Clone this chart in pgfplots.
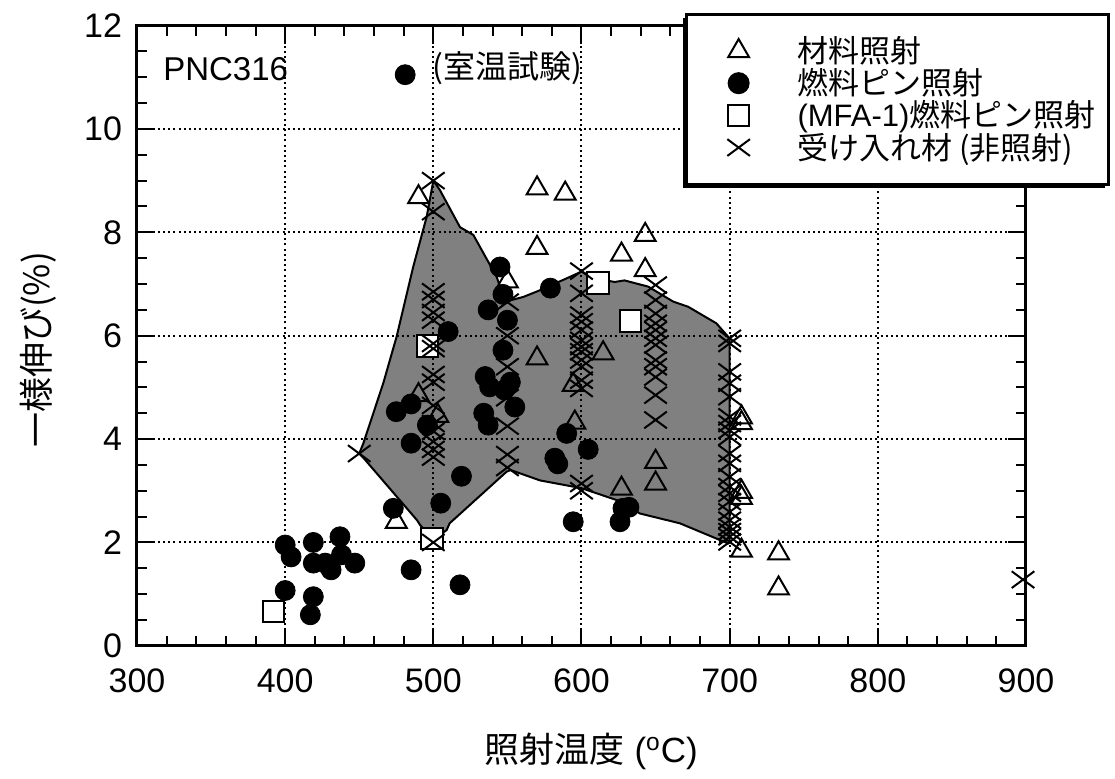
\documentclass[border=0pt]{standalone}
\usepackage{pgfplots}
\pgfplotsset{compat=1.18}
\usepackage{fontspec}
\setmainfont{Liberation Sans}
\newfontfamily\cjk{Noto Sans CJK JP}
\usetikzlibrary{shadows}
\definecolor{polygray}{RGB}{128,128,128}
\begin{document}
\begin{tikzpicture}
\begin{axis}[
  scale only axis, width=444.5pt, height=310.1pt,
  xmin=300, xmax=900, ymin=0, ymax=12,
  xtick={300,400,...,900}, ytick={0,2,...,12},
  minor x tick num=4, minor y tick num=3,
  tick pos=both, tick align=inside,
  major tick length=9pt, minor tick length=5pt,
  axis line style={line width=1.5pt},
  every tick/.style={black, line width=1pt},
  grid=major, major grid style={black, line width=1pt, dash pattern=on 1pt off 1.6pt},
  axis on top,
  /pgf/number format/assume math mode=true,
  ticklabel style={font=\fontsize{17}{20}\selectfont},
  xticklabel style={yshift=-8pt},
  yticklabel style={xshift=-4pt},
  xlabel={{\cjk 照射温度} (\textsuperscript{o}C)},
  ylabel={{\cjk 一様伸び(\%)}},
  label style={font=\fontsize{17.5}{20}\selectfont},
  xlabel style={at={(axis description cs:0.511,-0.171)}, anchor=center},
  ylabel style={at={(axis description cs:-0.111,0.477)}, anchor=center},
  clip=false,
  legend cell align=left,
  legend image code/.code={\pgfpathrectangle{\pgfpoint{-13pt}{-1pt}}{\pgfpoint{30pt}{2pt}}\pgfusepath{use as bounding box}\draw[only marks, line width=1pt] plot coordinates {(0.3cm,0cm)};},
  legend style={at={(1.0945,1.0203)}, anchor=north east, draw=black, line width=1.5pt, fill=white,
    font=\fontsize{15.5}{17}\selectfont, inner xsep=4.5pt, inner ysep=9pt, row sep=-2.5pt,
    drop shadow={shadow xshift=-1.8pt, shadow yshift=-1.8pt, fill=black, opacity=1},
    /tikz/every odd column/.append style={column sep=19pt}},
]
% shaded band
\addplot[fill=polygray, draw=black, line width=1pt, forget plot] coordinates {
(450,3.72) (452.8,3.92) (466.2,5.08) (475.2,5.98) (486.4,7.33) (495.5,8.3) (500,9.0)
(504.4,8.82) (518,8.1) (527,7.95) (542.7,7.14) (548.7,6.66) (560.7,6.75) (572,6.88)
(590,7.11) (600,7.24) (610,7.1) (622.5,7.04) (629,7.07) (645,6.95) (661.9,6.66)
(672,6.56) (691,6.24) (699,5.98) (700,5.95) (700,2.0) (699,1.98) (666.4,2.37)
(639.4,2.56) (623.7,2.82) (600,3.05) (572,3.2) (552.3,3.4) (549.5,3.37) (511,2.37)
(509,2.24) (500,2.05) (491,2.34) (489,2.43) (453,3.63) (450,3.72)
} -- cycle;
% material irradiation
\addplot[only marks, mark=triangle, mark size=6pt, mark options={line width=1pt, draw=black}] coordinates {
(490,8.68) (490,4.85) (503,4.45) (475,2.4) (570,8.85) (589,8.75) (570,7.7) (643,7.95)
(627,7.57) (643,7.27) (550,7.05) (570,5.56) (614.6,5.66) (594.4,5.05) (595.5,4.32)
(650,3.56) (650,3.14) (627,3.04) (708,4.42) (708,4.31) (708,2.98) (708,2.86) (708,1.84)
(733,1.79) (733,1.11)
};
\addlegendentry{{\cjk 材料照射}}
% fuel pin irradiation
\addplot[only marks, mark=*, mark size=5pt, mark options={fill=black, draw=black}] coordinates {
(481,11.05)
(475,4.53) (485,4.68) (496,4.27) (485,3.92) (510,6.08) (519,3.28) (505,2.76) (473,2.66)
(400,1.95) (404,1.72) (419,2.0) (437,2.11) (419,1.6) (427,1.6) (431,1.47) (438,1.76)
(447,1.6) (485,1.47) (518,1.18) (400,1.07) (419,0.95) (417,0.6)
(545,7.33) (547,6.8) (537,6.5) (550,6.3) (547,5.72) (579,6.92) (535,5.21) (538,5.01)
(552,5.1) (548,4.95) (555,4.62) (534,4.5) (537,4.27) (590,4.11) (604.5,3.8) (582,3.63)
(584,3.52) (628,2.66) (632,2.68) (626,2.4) (594.4,2.4)
};
\addlegendentry{{\cjk 燃料ピン照射}}
% MFA-1
\addplot[only marks, mark=square*, mark size=5.4pt, mark options={fill=white, draw=black, line width=1pt}] coordinates {
(392,0.66) (496,5.8) (499,2.08) (611,7.02) (633,6.28)
};
\addlegendentry{(MFA-1){\cjk 燃料ピン照射}}
% as received
\addplot[only marks, mark=x, mark size=8pt, mark options={line width=1pt, draw=black, yscale=0.74}] coordinates {
(450,3.72)
(500,9.0) (500,8.4) (500,6.85) (500,6.7) (500,6.45) (500,6.3) (500,5.85) (500,5.75)
(500,5.25) (500,5.1) (500,4.65) (500,4.3) (500,4.15) (500,3.95) (500,3.8) (500,3.65) (500,2.0)
(550,6.65) (550,6.0) (550,5.4) (550,4.8) (550,4.25) (550,3.7) (550,3.45)
(600,7.25) (600,6.82) (600,6.4) (600,6.27) (600,6.11) (600,5.91) (600,5.79) (600,5.69)
(600,5.53) (600,5.4) (600,5.14) (600,4.98) (600,3.14) (600,3.0)
(650,6.98) (650,6.69) (650,6.43) (650,6.24) (650,6.11) (650,5.95) (650,5.82) (650,5.53)
(650,5.4) (650,5.2) (650,4.85) (650,4.37)
(700,5.95) (700,5.85) (700,5.3) (700,5.08) (700,4.82) (700,4.43) (700,4.3) (700,4.17)
(700,4.04) (700,3.72) (700,3.53) (700,3.27) (700,3.08) (700,2.95) (700,2.79) (700,2.59)
(700,2.43) (700,2.3) (700,2.21) (700,2.11) (700,2.01)
(898,1.28)
};
\addlegendentry{{\cjk 受け入れ材 (非照射)}}
\node[anchor=west, font=\fontsize{16.5}{19}\selectfont, inner sep=0pt] at (axis cs:317.5,11.15) {PNC316};
\node[anchor=west, font=\fontsize{16}{19}\selectfont, inner sep=0pt] at (axis cs:499,11.18) {{\cjk (室温試験)}};
\end{axis}
\pgfresetboundingbox
\path[use as bounding box] ([xshift=-68.5pt,yshift=-66.1pt]current axis.south west) rectangle ++(557.5pt,389pt);
\end{tikzpicture}
\end{document}
